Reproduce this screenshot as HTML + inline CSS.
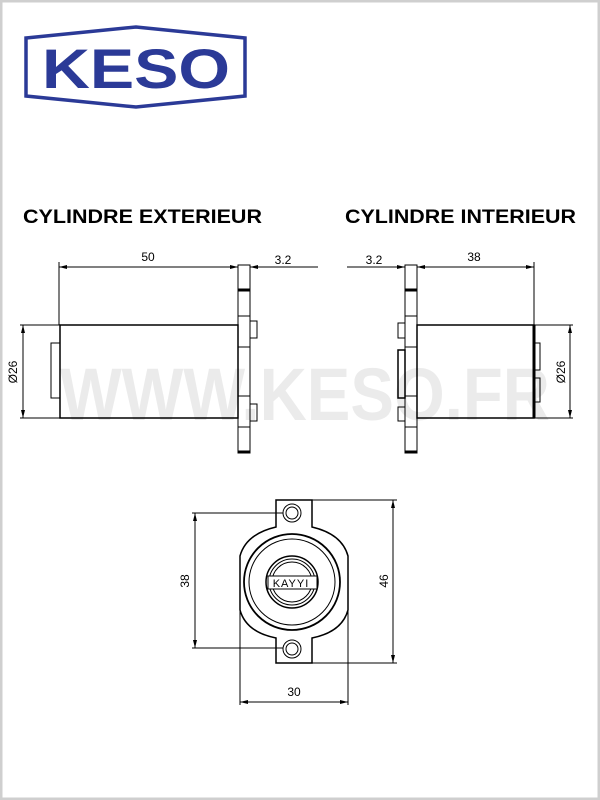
<!DOCTYPE html>
<html><head><meta charset="utf-8"><style>
html,body{margin:0;padding:0;background:#fff}
svg{display:block}
text{font-family:"Liberation Sans",Arial,sans-serif}
</style></head><body>
<svg width="600" height="800" viewBox="0 0 600 800" xmlns="http://www.w3.org/2000/svg">
<rect x="1" y="1" width="598" height="798" fill="#fff" stroke="#cfcfcf" stroke-width="3"/>
<!-- logo -->
<polygon points="26,38 136,27 245,38 245,96 136,107 26,96" fill="none" stroke="#2b3a97" stroke-width="3.5"/>
<text x="136" y="88" text-anchor="middle" font-size="56" font-weight="bold" fill="#2b3a97" textLength="188" lengthAdjust="spacingAndGlyphs">KESO</text>
<!-- watermark -->
<text x="305" y="420" text-anchor="middle" font-size="74" font-weight="bold" fill="#ebebeb" textLength="490" lengthAdjust="spacingAndGlyphs">WWW.KESO.FR</text>
<!-- headings -->
<text x="23" y="223" font-size="19" font-weight="bold" fill="#000" textLength="239" lengthAdjust="spacingAndGlyphs">CYLINDRE EXTERIEUR</text>
<text x="345" y="223" font-size="19" font-weight="bold" fill="#000" textLength="231" lengthAdjust="spacingAndGlyphs">CYLINDRE INTERIEUR</text>
<g fill="none" stroke="#000" stroke-width="1">
<!-- left cylinder -->
<rect x="60" y="325" width="178" height="93" stroke-width="1.5"/>
<rect x="51" y="343" width="9" height="55"/>
<rect x="238" y="265" width="12" height="188"/>
<path d="M238 316H250M238 347H250M238 396H250M238 427H250"/>
<rect x="250" y="321" width="7" height="17"/>
<rect x="250" y="404" width="7" height="17"/>
<path d="M238 290H250M238 452H250" stroke-width="3"/>
<path d="M59 262V325M59 267H238M250 267H318M20 325H60M20 418H60M23 325V418"/>
<!-- right cylinder -->
<rect x="417" y="325" width="117" height="93" stroke-width="1.5"/>
<path d="M534 325V418" stroke-width="3"/>
<rect x="534" y="343" width="6" height="27"/>
<rect x="534" y="378" width="6" height="24"/>
<rect x="405" y="265" width="12" height="188"/>
<path d="M405 316H417M405 347H417M405 396H417M405 427H417"/>
<path d="M405 290H417M405 452H417" stroke-width="3"/>
<rect x="398" y="323" width="7" height="15"/>
<rect x="398" y="350" width="7" height="48" stroke-width="1.5"/>
<rect x="398" y="407" width="7" height="14"/>
<path d="M347 267H405M417 267H534M534 262V325M534 325H573M534 418H573M570 325V418"/>
<!-- front view -->
<path d="M276 500H312V527 Q342 534 348 556 V610 Q342 632 312 638 V663 H276 V638 Q246 632 240 610 V556 Q246 534 276 527 Z" stroke-width="1.5"/>
<circle cx="292" cy="513" r="9"/><circle cx="292" cy="513" r="6"/>
<circle cx="292" cy="649" r="9"/><circle cx="292" cy="649" r="6"/>
<circle cx="292" cy="582" r="48" stroke-width="1.8"/>
<circle cx="292" cy="582" r="43"/>
<circle cx="292" cy="582" r="26" stroke-width="1.5"/>
<circle cx="292" cy="582" r="23"/>
<circle cx="292" cy="582" r="20"/>
<rect x="268" y="576" width="49" height="13" fill="#fff"/>
<path d="M192 513H283M192 648H283M195 513V648M312 500H397M312 663H397M393 500V663M240 610V705M348 610V705M240 702H348"/>
</g>
<text x="291" y="587" text-anchor="middle" font-size="11" fill="#000" letter-spacing="1">KAYYI</text>
<g fill="#000">
<path d="M59 267l8-2v4zM238 267l-8-2v4zM250 267l8-2v4z"/>
<path d="M23 325l-2 8h4zM23 418l-2-8h4z"/>
<path d="M405 267l-8-2v4zM417 267l8-2v4zM534 267l-8-2v4z"/>
<path d="M570 325l-2 8h4zM570 418l-2-8h4z"/>
<path d="M195 513l-2 8h4zM195 648l-2-8h4zM393 500l-2 8h4zM393 663l-2-8h4z"/>
<path d="M240 702l8-2v4zM348 702l-8-2v4z"/>
</g>
<g font-size="12" fill="#000">
<text x="148" y="261" text-anchor="middle">50</text>
<text x="283" y="264" text-anchor="middle">3.2</text>
<text x="374" y="264" text-anchor="middle">3.2</text>
<text x="474" y="261" text-anchor="middle">38</text>
<text x="294" y="696" text-anchor="middle">30</text>
<text transform="translate(17,372) rotate(-90)" text-anchor="middle">Ø26</text>
<text transform="translate(565,372) rotate(-90)" text-anchor="middle">Ø26</text>
<text transform="translate(189,581) rotate(-90)" text-anchor="middle">38</text>
<text transform="translate(388,581) rotate(-90)" text-anchor="middle">46</text>
</g>
</svg>
</body></html>
